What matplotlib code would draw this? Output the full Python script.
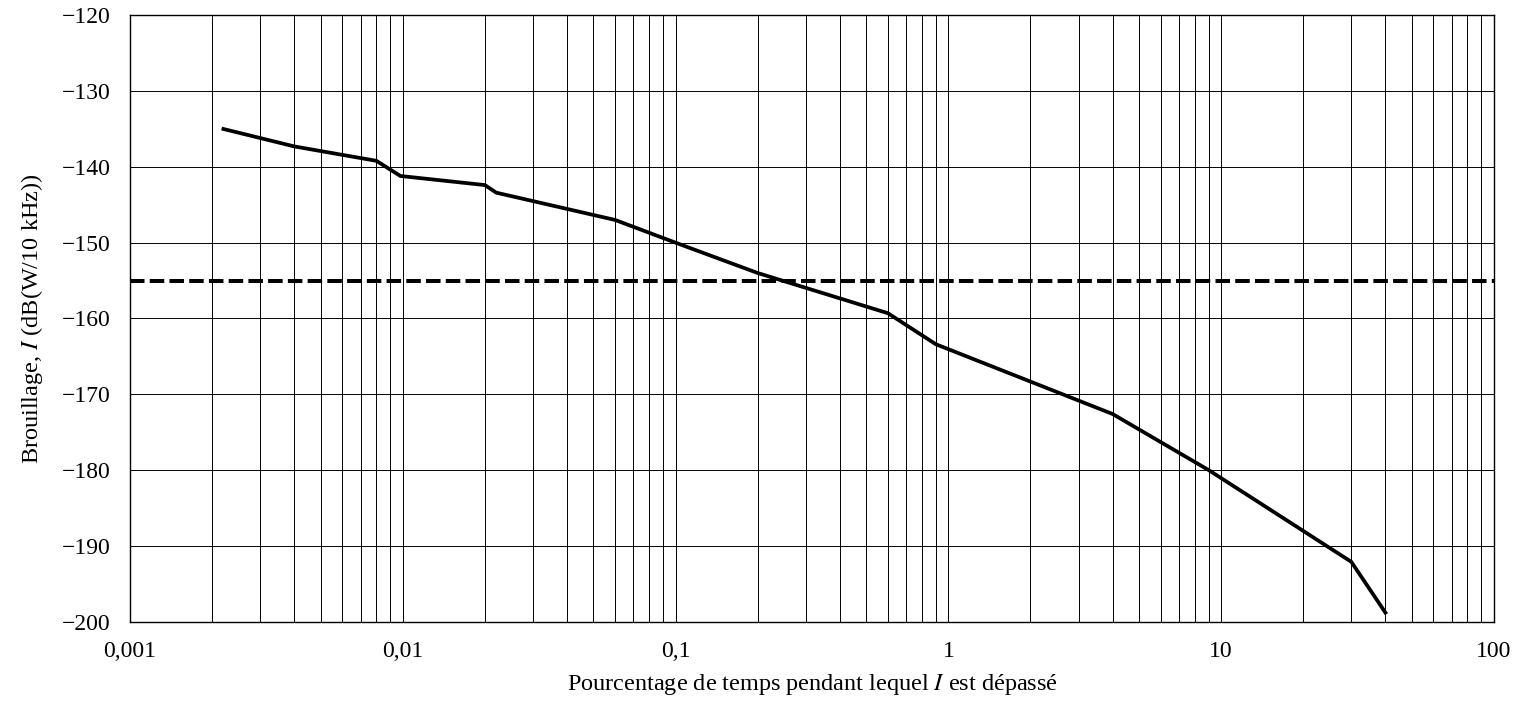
import numpy as np
import matplotlib
matplotlib.use('Agg')
import matplotlib.pyplot as plt
from matplotlib.ticker import LogLocator, FixedFormatter, FixedLocator, NullFormatter

plt.rcParams['font.family'] = ['Liberation Serif', 'DejaVu Serif']
plt.rcParams['mathtext.fontset'] = 'stix'

# interference curve (percentage of time exceeded vs level)
pct = [0.0022, 0.004, 0.008, 0.0098, 0.02, 0.022, 0.06, 0.1, 0.2, 0.6, 0.9, 4, 9, 30, 40]
level = [-135.0, -137.3, -139.2, -141.2, -142.4, -143.4, -147.0, -150.0, -154.0,
         -159.3, -163.4, -172.6, -180.0, -192.1, -198.8]
threshold = -155

xticks = [0.001, 0.01, 0.1, 1, 10, 100]
xticklabels = ['0,001', '0,01', '0,1', '1', '10', '100']
yticks = [-200, -190, -180, -170, -160, -150, -140, -130, -120]

fig = plt.figure(figsize=(15.21, 7.11), dpi=100, facecolor='white')
ax = fig.add_axes([0.0855, 0.1256, 0.8967, 0.8529])

ax.set_xscale('log')
ax.set_xlim(0.001, 100)
ax.set_ylim(-200, -120)

ax.plot(pct, level, color='black', lw=2.7, solid_joinstyle='miter', zorder=3)
ax.axhline(threshold, color='black', lw=2.9, dashes=(3.6, 1.3), zorder=3)

ax.xaxis.set_major_locator(FixedLocator(xticks))
ax.xaxis.set_major_formatter(FixedFormatter(xticklabels))
ax.xaxis.set_minor_locator(LogLocator(base=10, subs=np.arange(2, 10)))
ax.xaxis.set_minor_formatter(NullFormatter())
ax.set_yticks(yticks)
ax.set_yticklabels([('\u2212%d' % -v) for v in yticks])

ax.grid(True, which='both', color='black', lw=0.7)
ax.tick_params(which='both', length=0, labelsize=17)
ax.tick_params(axis='x', pad=14)
ax.tick_params(axis='y', pad=14)
for s in ax.spines.values():
    s.set_linewidth(1.0)

ax.set_xlabel('Pourcentage de temps pendant lequel $I$ est dépassé', fontsize=17.5, labelpad=7)
ax.set_ylabel('Brouillage, $I$ (dB(W/10 kHz))', fontsize=17.5, labelpad=12)

fig.savefig('out.png', dpi=100, facecolor='white')
